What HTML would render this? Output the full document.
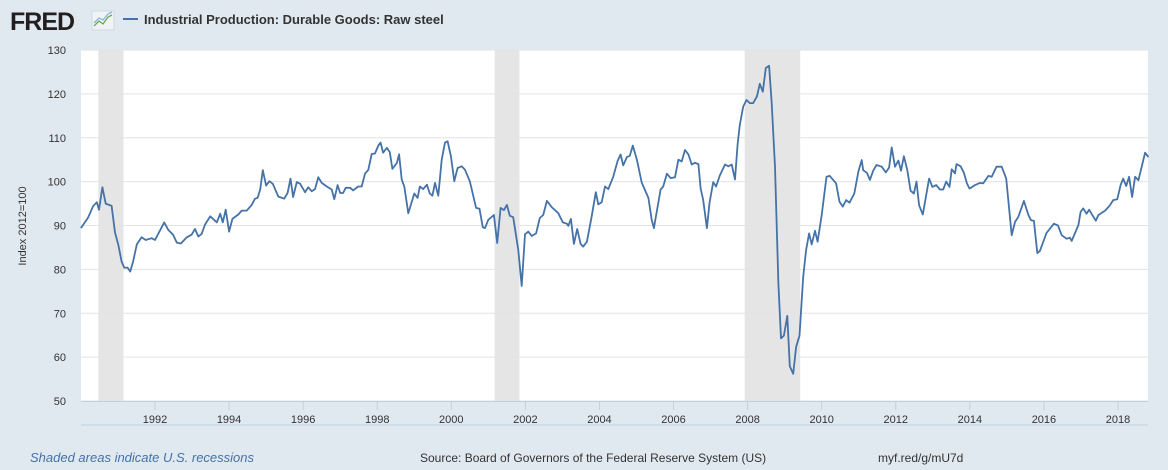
<!DOCTYPE html>
<html><head><meta charset="utf-8"><style>
body{margin:0;width:1168px;height:470px;background:#e1e9f0;overflow:hidden;font-family:"Liberation Sans",sans-serif}
svg{display:block}
</style></head><body>
<svg id="chart" width="1168" height="470" xmlns="http://www.w3.org/2000/svg">
<rect width="1168" height="470" fill="#e1e9f0"/>
<g>
<text x="10" y="30" font-size="25" font-weight="bold" fill="#231f20" font-family="Liberation Sans, sans-serif" letter-spacing="-1">FRED</text>
<rect x="92" y="11" width="22" height="19" fill="#f0f3f6" stroke="#cfd8e0"/>
<polyline points="94,26 99,21 103,24 108,17 112,15" fill="none" stroke="#6aa84f" stroke-width="1.3"/>
<polyline points="94,23 99,18 103,20 108,14 112,12" fill="none" stroke="#8fb3d9" stroke-width="1.3"/>
</g>
<g>
<line x1="123" y1="19" x2="138" y2="19" stroke="#4572a7" stroke-width="2"/>
<text x="144" y="24" font-size="13" font-weight="bold" fill="#333">Industrial Production: Durable Goods: Raw steel</text>
</g>
<rect x="81" y="50" width="1067" height="351" fill="#fff"/>
<g id="rec"></g>
<g id="grid"></g>
<line x1="81" y1="401.5" x2="1148" y2="401.5" stroke="#c0d0e0"/>
<line x1="81" y1="425" x2="1148" y2="425" stroke="#c0d0e0"/>
<g id="xt"></g>
<text transform="translate(26,226) rotate(-90)" text-anchor="middle" font-size="11" fill="#333">Index 2012=100</text>
<path id="line" fill="none" stroke="#4572a7" stroke-width="1.8" stroke-linejoin="round"/>
<text x="30" y="462" font-size="13" font-style="italic" fill="#4572a7">Shaded areas indicate U.S. recessions</text>
<text x="420" y="462" font-size="12" fill="#333">Source: Board of Governors of the Federal Reserve System (US)</text>
<text x="878" y="462" font-size="12" fill="#333">myf.red/g/mU7d</text>
</svg>
<script>
const yTicks=[50,60,70,80,90,100,110,120,130];
const xTicks=[1992,1994,1996,1998,2000,2002,2004,2006,2008,2010,2012,2014,2016,2018];
const recStart=[1990.47,2001.17,2007.92];
const recEnd=[1991.15,2001.84,2009.42];
const dates=[1990.00,1990.20,1990.33,1990.43,1990.49,1990.58,1990.67,1990.83,1990.92,1991.01,1991.10,1991.17,1991.26,1991.33,1991.41,1991.51,1991.64,1991.75,1991.91,1992.00,1992.25,1992.36,1992.49,1992.59,1992.70,1992.86,1992.99,1993.08,1993.17,1993.26,1993.35,1993.49,1993.67,1993.76,1993.83,1993.91,1994.00,1994.09,1994.25,1994.34,1994.48,1994.61,1994.70,1994.77,1994.84,1994.91,1995.00,1995.09,1995.18,1995.33,1995.49,1995.58,1995.66,1995.73,1995.83,1995.92,1996.05,1996.14,1996.23,1996.32,1996.41,1996.50,1996.64,1996.77,1996.84,1996.93,1997.00,1997.08,1997.15,1997.27,1997.35,1997.49,1997.58,1997.67,1997.76,1997.85,1997.94,1998.03,1998.09,1998.16,1998.26,1998.34,1998.41,1998.53,1998.59,1998.66,1998.73,1998.84,1999.00,1999.09,1999.15,1999.24,1999.34,1999.42,1999.49,1999.56,1999.65,1999.74,1999.83,1999.90,1999.99,2000.08,2000.17,2000.28,2000.37,2000.50,2000.67,2000.76,2000.85,2000.91,2001.00,2001.15,2001.24,2001.33,2001.42,2001.50,2001.58,2001.67,2001.81,2001.90,2001.99,2002.08,2002.17,2002.29,2002.39,2002.48,2002.58,2002.71,2002.89,2003.01,2003.12,2003.16,2003.23,2003.31,2003.40,2003.49,2003.56,2003.66,2003.79,2003.90,2003.97,2004.06,2004.15,2004.24,2004.37,2004.49,2004.57,2004.64,2004.74,2004.82,2004.90,2005.01,2005.14,2005.32,2005.41,2005.47,2005.65,2005.72,2005.82,2005.92,2006.04,2006.13,2006.22,2006.31,2006.40,2006.49,2006.58,2006.67,2006.73,2006.80,2006.90,2006.97,2007.07,2007.15,2007.25,2007.39,2007.48,2007.57,2007.66,2007.73,2007.79,2007.88,2007.97,2008.06,2008.15,2008.25,2008.33,2008.41,2008.49,2008.58,2008.65,2008.74,2008.83,2008.90,2008.98,2009.07,2009.14,2009.23,2009.31,2009.40,2009.50,2009.58,2009.66,2009.73,2009.82,2009.89,2010.00,2010.13,2010.22,2010.39,2010.48,2010.57,2010.66,2010.75,2010.88,2010.99,2011.08,2011.12,2011.22,2011.30,2011.39,2011.48,2011.62,2011.73,2011.82,2011.89,2011.98,2012.07,2012.14,2012.22,2012.31,2012.40,2012.49,2012.56,2012.63,2012.73,2012.90,2012.99,2013.09,2013.19,2013.28,2013.36,2013.45,2013.51,2013.60,2013.64,2013.75,2013.84,2013.92,2013.99,2014.14,2014.27,2014.36,2014.50,2014.59,2014.72,2014.86,2014.98,2015.13,2015.22,2015.31,2015.46,2015.58,2015.65,2015.73,2015.82,2015.89,2016.07,2016.27,2016.38,2016.48,2016.61,2016.70,2016.75,2016.93,2016.99,2017.06,2017.15,2017.22,2017.40,2017.47,2017.65,2017.78,2017.87,2017.98,2018.07,2018.14,2018.22,2018.30,2018.38,2018.46,2018.55,2018.73,2018.82];
const values=[89.4,91.9,94.4,95.3,93.6,98.7,95.0,94.5,88.4,85.6,81.8,80.4,80.4,79.5,81.8,85.7,87.3,86.7,87.1,86.7,90.7,89.0,87.9,86.1,85.9,87.3,87.9,89.2,87.5,88.1,90.2,92.1,90.7,92.7,90.7,93.6,88.6,91.5,92.5,93.4,93.4,94.7,96.1,96.3,98.2,102.6,99.1,100.1,99.5,96.6,96.1,97.4,100.7,96.5,99.9,99.5,97.6,98.7,97.8,98.3,101.0,99.7,98.9,98.2,96.0,99.2,97.4,97.4,98.6,98.6,98.0,98.9,98.9,101.8,102.7,106.3,106.4,108.2,108.9,106.6,107.7,106.7,102.9,104.3,106.2,100.5,98.9,92.8,97.3,96.3,98.9,98.3,99.3,97.3,96.8,99.7,96.8,105.0,108.9,109.2,105.8,100.1,103.1,103.5,102.7,100.1,94.0,93.8,89.6,89.4,91.3,92.4,86.0,94.0,93.5,94.7,92.2,91.9,84.4,76.2,88.0,88.6,87.6,88.2,91.7,92.4,95.6,94.2,92.8,90.7,90.4,89.9,91.5,85.8,89.2,85.8,85.2,86.3,92.1,97.6,94.8,95.3,98.9,98.3,101.1,104.7,106.2,103.7,105.6,105.9,108.2,105.0,99.8,96.3,91.3,89.4,98.2,98.9,101.8,100.8,101.0,105.0,104.6,107.2,106.2,103.9,104.3,104.0,98.5,95.8,89.4,95.1,99.9,98.9,101.4,103.9,103.5,103.9,100.5,108.5,112.9,117.1,118.6,117.9,117.9,119.4,122.3,120.5,125.9,126.4,117.9,103.4,76.7,64.3,64.9,69.4,57.9,56.2,62.3,64.9,78.3,84.4,88.2,85.7,88.8,86.3,92.4,101.1,101.3,99.6,95.4,94.3,95.8,95.2,97.3,102.3,104.9,102.6,102.0,100.4,102.5,103.8,103.4,102.1,103.2,107.8,103.4,104.8,102.5,105.8,102.6,97.9,97.3,100.0,94.6,92.5,100.7,98.8,99.2,98.2,98.2,100.0,98.8,102.8,101.9,104.0,103.5,102.0,99.6,98.4,99.2,99.7,99.6,101.3,101.1,103.4,103.4,100.7,87.8,90.8,92.0,95.6,92.4,91.2,91.1,83.7,84.2,88.3,90.4,90.0,87.8,87.0,87.2,86.5,90.1,93.1,93.9,92.7,93.6,91.1,92.4,93.4,94.6,95.8,96.0,99.2,100.7,99.0,101.1,96.5,101.1,100.3,106.6,105.6];
const X0=81,X1=1148,Y0=401,Y1=50;
const xS=y=>80.9+(y-1990)*37.04;
const yS=v=>Y0-(v-50)/(130-50)*(Y0-Y1);
const NS='http://www.w3.org/2000/svg';
function mk(t,a,p){const e=document.createElementNS(NS,t);for(const k in a)e.setAttribute(k,a[k]);p.appendChild(e);return e;}
const rec=document.getElementById('rec');
recStart.forEach((s,i)=>{const r=mk('rect',{x:xS(s),y:Y1,width:xS(recEnd[i])-xS(s),height:Y0-Y1,fill:'#e5e5e5'},rec);

});
const grid=document.getElementById('grid');
yTicks.forEach(v=>{const l=mk('line',{x1:X0,x2:X1,y1:yS(v),y2:yS(v),stroke:'#e3e3e3'},grid);


const t=mk('text',{x:66,y:yS(v)+4,'text-anchor':'end','font-size':11,fill:'#333'},grid);t.textContent=v;

});
const xt=document.getElementById('xt');
xTicks.forEach(y=>{const x=xS(y);mk('line',{x1:x,x2:x,y1:401,y2:410,stroke:'#c0d0e0'},xt);
const t=mk('text',{x:x,y:423,'text-anchor':'middle','font-size':11,fill:'#333'},xt);t.textContent=y;

});
document.getElementById('line').setAttribute('d',dates.map((d,i)=>(i?'L':'M')+xS(d).toFixed(1)+','+yS(values[i]).toFixed(1)).join(''));
</script>
</body></html>
